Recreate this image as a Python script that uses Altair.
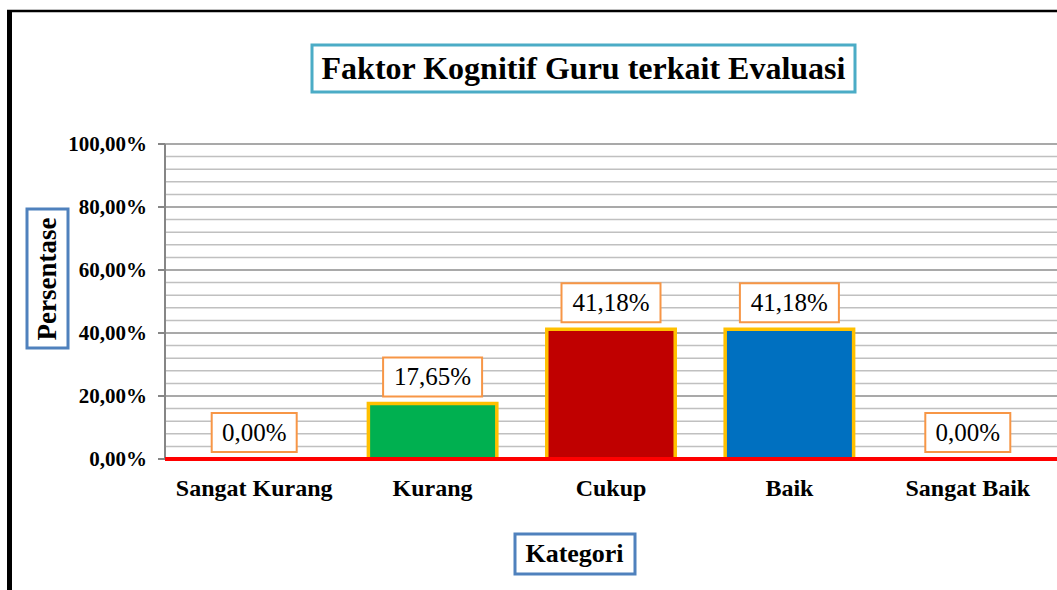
import altair as alt
import pandas as pd

categories = ["Sangat Kurang", "Kurang", "Cukup", "Baik", "Sangat Baik"]
values = [0.00, 17.65, 41.18, 41.18, 0.00]
labels = ["0,00%", "17,65%", "41,18%", "41,18%", "0,00%"]
bar_colors = ["#FFFFFF", "#00B050", "#C00000", "#0070C0", "#FFFFFF"]
major_ticks = [0, 20, 40, 60, 80, 100]
major_labels = ["0,00%", "20,00%", "40,00%", "60,00%", "80,00%", "100,00%"]
minor_ticks = [4, 8, 12, 16, 24, 28, 32, 36, 44, 48, 52, 56, 64, 68, 72, 76, 84, 88, 92, 96]

title_text = "Faktor Kognitif Guru terkait Evaluasi"
y_title = "Persentase"
x_title = "Kategori"

SERIF = "Liberation Serif"
W, H = 892, 315

df = pd.DataFrame({"cat": categories, "val": values, "label": labels, "color": bar_colors})
one = pd.DataFrame({"a": [0]})
minor_df = pd.DataFrame({"t": minor_ticks})
major_df = pd.DataFrame({"t": major_ticks, "lab": major_labels})

xscale = alt.Scale(domain=categories, paddingInner=0.28, paddingOuter=0.14)
yscale = alt.Scale(domain=[0, 100], nice=False)

x_cat = alt.X("cat:N", scale=xscale, sort=categories, axis=None)
y_val = alt.Y("val:Q", scale=yscale, axis=None)
y_tick = alt.Y("t:Q", scale=yscale, axis=None)

# grid and y axis (drawn through the y scale)
minor = alt.Chart(minor_df).mark_rule(color="#C0C0C0", strokeWidth=1.5).encode(y=y_tick)
major = alt.Chart(major_df).mark_rule(color="#8C8C8C", strokeWidth=1.5).encode(y=y_tick)
ticks = alt.Chart(major_df).mark_rule(color="#868686", strokeWidth=2).encode(
    y=y_tick, x=alt.value(-7), x2=alt.value(0)
)
domain = alt.Chart(one).mark_rule(color="#868686", strokeWidth=2).encode(
    x=alt.value(0), y=alt.value(0), y2=alt.value(H)
)
tick_labels = alt.Chart(major_df).mark_text(
    font=SERIF, fontWeight="bold", fontSize=21, color="black",
    align="right", baseline="alphabetic", dy=7
).encode(y=y_tick, x=alt.value(-18), text="lab:N")

bars = alt.Chart(df).transform_filter("datum.val > 0").mark_bar(
    stroke="#FFC000", strokeWidth=3.5
).encode(x=x_cat, y=y_val, color=alt.Color("color:N", scale=None))

baseline = alt.Chart(one).mark_rule(color="#FF0000", strokeWidth=4).encode(
    y=alt.Y("a:Q", scale=yscale, axis=None)
)

box_zero = alt.Chart(df).transform_filter("datum.val == 0").mark_bar(
    width=85, fill="white", stroke="#F79646", strokeWidth=2, yOffset=-7, y2Offset=-46
).encode(x=x_cat, y=y_val, y2="val:Q")

box_pos = alt.Chart(df).transform_filter("datum.val > 0").mark_bar(
    width=99, fill="white", stroke="#F79646", strokeWidth=2, yOffset=-7, y2Offset=-46
).encode(x=x_cat, y=y_val, y2="val:Q")

label_text = alt.Chart(df).mark_text(
    dy=-26.5, font=SERIF, fontSize=25, color="black", baseline="middle"
).encode(x=x_cat, y=y_val, text="label:N")

cat_labels = alt.Chart(df).mark_text(
    font=SERIF, fontWeight="bold", fontSize=24, color="black",
    baseline="alphabetic", align="center"
).encode(x=x_cat, y=alt.value(H + 37), text="cat:N")

# decorations: frame, title box, axis title boxes
frame_left = alt.Chart(one).mark_rule(color="black", strokeWidth=5).encode(
    x=alt.value(-155.5), y=alt.value(-134), y2=alt.value(446)
)
frame_top = alt.Chart(one).mark_rule(color="black", strokeWidth=2.5).encode(
    x=alt.value(-158), x2=alt.value(900), y=alt.value(-133)
)

title_box = alt.Chart(one).mark_rect(fill="white", stroke="#4BACC6", strokeWidth=3).encode(
    x=alt.value(147), x2=alt.value(690), y=alt.value(-99), y2=alt.value(-52)
)
title_mark = alt.Chart(one).mark_text(
    text=title_text, font=SERIF, fontWeight="bold", fontSize=32, color="black",
    baseline="middle", align="center"
).encode(x=alt.value(418.5), y=alt.value(-75.5))

ytitle_box = alt.Chart(one).mark_rect(fill="white", stroke="#4F81BD", strokeWidth=3).encode(
    x=alt.value(-138), x2=alt.value(-97), y=alt.value(65), y2=alt.value(204)
)
ytitle_mark = alt.Chart(one).mark_text(
    text=y_title, font=SERIF, fontWeight="bold", fontSize=27, color="black",
    baseline="middle", align="center", angle=270
).encode(x=alt.value(-117), y=alt.value(135))

xtitle_box = alt.Chart(one).mark_rect(fill="white", stroke="#4F81BD", strokeWidth=3).encode(
    x=alt.value(350), x2=alt.value(470), y=alt.value(390), y2=alt.value(430)
)
xtitle_mark = alt.Chart(one).mark_text(
    text=x_title, font=SERIF, fontWeight="bold", fontSize=26, color="black",
    baseline="middle", align="center"
).encode(x=alt.value(409.5), y=alt.value(410))

chart = alt.layer(
    minor, major, domain, ticks, tick_labels,
    bars, baseline, box_zero, box_pos, label_text, cat_labels,
    frame_left, frame_top, title_box, title_mark,
    ytitle_box, ytitle_mark, xtitle_box, xtitle_mark,
).properties(
    width=W, height=H,
    padding={"left": 165, "top": 144, "right": 0, "bottom": 131},
    autosize=alt.AutoSizeParams(type="none"),
    background="white",
).configure_view(stroke=None)

chart.save("out.html", embed_options={"renderer": "svg", "actions": False})
